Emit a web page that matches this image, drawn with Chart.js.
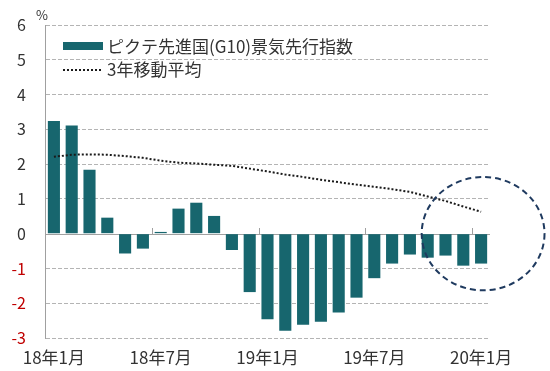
<!DOCTYPE html>
<html lang="ja">
<head>
<meta charset="utf-8">
<title>ピクテ先進国(G10)景気先行指数</title>
<script src="https://cdn.jsdelivr.net/npm/chart.js@4.4.1/dist/chart.umd.min.js"></script>
<style>
    html, body { margin: 0; padding: 0; background: #fff; }
    #wrap { width: 550px; height: 371px; }
</style>
</head>
<body>
<div id="wrap"><canvas id="leadingChart" width="550" height="371"></canvas></div>
<script>
// Dados do gráfico
const months = [
    '18年1月', '18年2月', '18年3月', '18年4月', '18年5月', '18年6月',
    '18年7月', '18年8月', '18年9月', '18年10月', '18年11月', '18年12月',
    '19年1月', '19年2月', '19年3月', '19年4月', '19年5月', '19年6月',
    '19年7月', '19年8月', '19年9月', '19年10月', '19年11月', '19年12月',
    '20年1月'
];
const leadingIndex = [
    3.24, 3.11, 1.84, 0.46, -0.57, -0.43, 0.05, 0.72, 0.89, 0.51, -0.47, -1.68,
    -2.46, -2.79, -2.62, -2.53, -2.27, -1.84, -1.28, -0.86, -0.60, -0.69, -0.63, -0.92,
    -0.86
];
const movingAverage = [
    2.21, 2.27, 2.28, 2.27, 2.23, 2.18, 2.10, 2.04, 2.02, 1.98, 1.95, 1.87,
    1.79, 1.70, 1.63, 1.55, 1.48, 1.41, 1.35, 1.28, 1.20, 1.07, 0.94, 0.78,
    0.63
];
const yTicks = { min: -3, max: 6, step: 1 };
const labelEvery = 6;

const seriesNames = ['ピクテ先進国(G10)景気先行指数', '3年移動平均'];
const barColor = '#17666e';
const lineColor = '#1a1a1a';
const textColor = '#333333';
const negColor = '#c00000';
const axisColor = '#a0a0a0';
const fontFamily = '"Noto Sans CJK JP", "Noto Sans", sans-serif';

// Linha do zero e marcas de divisão
const zeroLinePlugin = {
    id: 'zeroLine',
    beforeDatasetsDraw(chart) {
        const { ctx, chartArea, scales } = chart;
        const y0 = scales.y.getPixelForValue(0);
        ctx.save();
        ctx.strokeStyle = axisColor;
        ctx.lineWidth = 1;
        ctx.beginPath();
        ctx.moveTo(chartArea.left, Math.round(y0) + 0.5);
        ctx.lineTo(chartArea.right, Math.round(y0) + 0.5);
        for (let i = labelEvery; i < months.length; i += labelEvery) {
            const x = Math.round((scales.x.getPixelForValue(i - 1) + scales.x.getPixelForValue(i)) / 2) + 0.5;
            ctx.moveTo(x, Math.round(y0));
            ctx.lineTo(x, Math.round(y0) - 6);
        }
        ctx.stroke();
        ctx.restore();
    }
};

// Legenda, unidade e círculo tracejado
const overlayPlugin = {
    id: 'overlay',
    afterDatasetsDraw(chart) {
        const { ctx, chartArea, scales } = chart;
        ctx.save();

        // círculo em volta dos últimos meses
        const last = months.length - 1;
        const cx = scales.x.getPixelForValue(last) + 2;
        const cy = scales.y.getPixelForValue(0);
        const catW = scales.x.getPixelForValue(1) - scales.x.getPixelForValue(0);
        const rx = catW * 3.45;
        const ry = scales.y.getPixelForValue(0) - scales.y.getPixelForValue(1.63);
        ctx.strokeStyle = '#1f3a5f';
        ctx.lineWidth = 2;
        ctx.setLineDash([6, 4]);
        ctx.beginPath();
        ctx.ellipse(cx, cy, rx, ry, 0, 0, Math.PI * 2);
        ctx.stroke();
        ctx.setLineDash([]);

        // legenda
        const lx = chartArea.left + 18;
        ctx.font = '17px ' + fontFamily;
        ctx.textBaseline = 'middle';
        ctx.textAlign = 'left';
        ctx.fillStyle = barColor;
        ctx.fillRect(lx, chartArea.top + 17, 40, 8);
        ctx.fillStyle = textColor;
        ctx.fillText(seriesNames[0], lx + 44, chartArea.top + 22);

        ctx.strokeStyle = lineColor;
        ctx.lineWidth = 2;
        ctx.setLineDash([2, 2]);
        ctx.beginPath();
        ctx.moveTo(lx, chartArea.top + 45);
        ctx.lineTo(lx + 38, chartArea.top + 45);
        ctx.stroke();
        ctx.setLineDash([]);
        ctx.fillText(seriesNames[1], lx + 44, chartArea.top + 45);

        // unidade
        ctx.font = '13px ' + fontFamily;
        ctx.textAlign = 'center';
        ctx.fillText('%', chartArea.left - 3, chartArea.top - 10);
        ctx.restore();
    }
};

document.addEventListener('DOMContentLoaded', function() {
    const ctx = document.getElementById('leadingChart').getContext('2d');
    new Chart(ctx, {
        type: 'bar',
        data: {
            labels: months,
            datasets: [{
                type: 'bar',
                label: seriesNames[0],
                data: leadingIndex,
                backgroundColor: barColor,
                categoryPercentage: 1,
                barPercentage: 0.68,
                order: 1
            }, {
                type: 'line',
                label: seriesNames[1],
                data: movingAverage,
                borderColor: lineColor,
                borderWidth: 2,
                borderDash: [2, 2],
                pointRadius: 0,
                fill: false,
                tension: 0,
                order: 0
            }]
        },
        options: {
            responsive: false,
            animation: false,
            devicePixelRatio: 1,
            layout: { padding: { top: 25, right: 60, bottom: 0, left: 0 } },
            plugins: {
                legend: { display: false },
                tooltip: { enabled: false }
            },
            scales: {
                x: {
                    grid: { display: false, drawTicks: false },
                    border: { display: false },
                    ticks: {
                        autoSkip: false,
                        maxRotation: 0,
                        padding: 9,
                        color: textColor,
                        font: { family: fontFamily, size: 17 },
                        callback: (val, i) => (i % labelEvery === 0 ? months[i] : '')
                    },
                    afterFit: (scale) => { scale.height = 33; }
                },
                y: {
                    min: yTicks.min,
                    max: yTicks.max,
                    grid: {
                        drawTicks: false,
                        color: (c) => (c.tick && c.tick.value === 0 ? 'rgba(0,0,0,0)' : '#b4b4b4'),
                        lineWidth: 1
                    },
                    border: { display: true, color: axisColor, width: 1, dash: [4, 2] },
                    ticks: {
                        stepSize: yTicks.step,
                        padding: 19,
                        font: { family: fontFamily, size: 16 },
                        color: (c) => (c.tick && c.tick.value < 0 ? negColor : textColor)
                    },
                    afterFit: (scale) => {
                        scale.width = 45;
                        scale.paddingTop = 0;
                        scale.paddingBottom = 0;
                    }
                }
            }
        },
        plugins: [zeroLinePlugin, overlayPlugin]
    });
});
</script>
</body>
</html>
